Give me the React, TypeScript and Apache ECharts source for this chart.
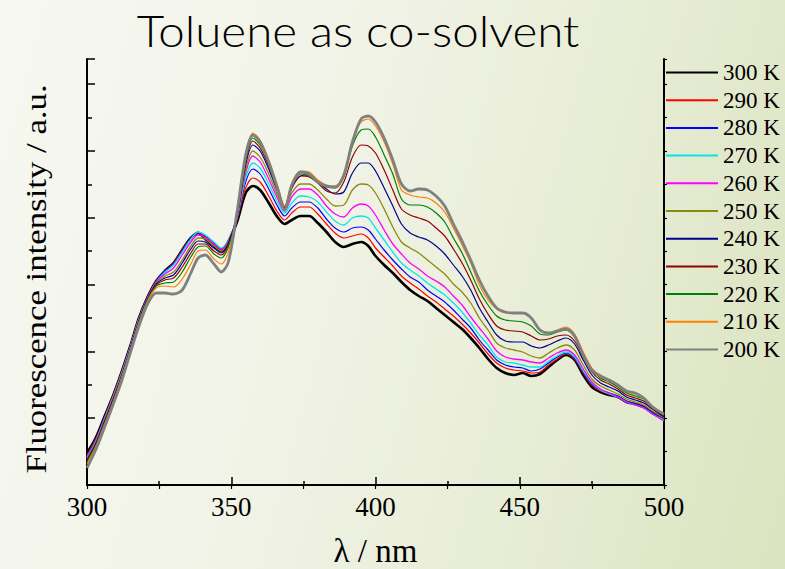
import React, { useEffect, useRef } from "react";
import * as echarts from "echarts";

// Emission wavelength grid (nm)
const wavelengths = [
  300, 303, 306, 309, 312, 315, 318, 321, 324,
  327, 330, 333, 336, 338.5, 341, 344, 346.5, 349,
  352, 355, 357.5, 360, 363, 366, 368.5, 371, 374,
  377, 380, 383, 386, 389, 392, 395, 397.5, 400,
  403, 406, 409, 412, 415, 418, 421, 424, 427,
  430, 433, 436, 439, 442, 445, 448, 451, 454,
  457, 460, 463, 466, 469, 472, 475, 478, 481,
  484, 487, 490, 493, 496, 500,
];

// Fluorescence intensity (a.u.) at each temperature
const i300K = [
  32, 47, 68, 89, 113, 139, 167, 188, 204,
  214, 222, 235, 247, 252, 246, 239, 234, 243,
  263, 292, 299, 295, 282, 268, 261, 265, 269,
  269, 262, 253, 243, 238, 241, 243, 239, 229,
  220, 212, 203, 195, 189, 184, 177, 170, 163,
  156, 147, 137, 126, 117, 112, 110, 112, 109,
  111, 118, 125, 130, 125, 110, 98, 93, 90,
  88, 83, 81, 78, 72, 67,
];
const i290K = [
  30, 46, 67, 89, 113, 139, 167, 188, 204,
  214, 222, 235, 247, 252, 247, 240, 235, 244,
  265, 297, 307, 303, 289, 273, 265, 272, 278,
  278, 271, 261, 252, 247, 249, 251, 247, 237,
  228, 219, 209, 202, 196, 189, 183, 176, 169,
  161, 152, 142, 131, 122, 117, 115, 114, 112,
  113, 120, 126, 131, 126, 112, 100, 94, 91,
  88, 83, 81, 78, 72, 67,
];
const i280K = [
  29, 45, 67, 88, 112, 138, 166, 188, 204,
  214, 221, 234, 247, 253, 249, 242, 236, 245,
  266, 303, 316, 311, 296, 279, 269, 277, 283,
  283, 277, 266, 257, 253, 257, 258, 255, 246,
  235, 225, 216, 208, 203, 195, 189, 183, 175,
  166, 157, 145, 135, 125, 120, 118, 117, 114,
  116, 122, 128, 132, 127, 113, 101, 95, 92,
  89, 84, 81, 78, 72, 67,
];
const i270K = [
  28, 44, 66, 88, 112, 138, 166, 187, 203,
  213, 220, 233, 246, 253, 250, 243, 237, 245,
  267, 307, 322, 317, 301, 283, 272, 282, 289,
  288, 283, 273, 264, 260, 267, 269, 267, 257,
  245, 233, 222, 215, 209, 202, 196, 190, 182,
  173, 162, 150, 140, 128, 123, 122, 120, 118,
  118, 124, 129, 133, 128, 114, 102, 95, 91,
  88, 83, 80, 77, 71, 65,
];
const i260K = [
  27, 43, 65, 87, 111, 137, 165, 187, 203,
  211, 217, 230, 243, 250, 248, 241, 236, 244,
  268, 312, 329, 323, 306, 287, 274, 288, 296,
  296, 290, 279, 271, 268, 277, 281, 279, 270,
  255, 241, 231, 222, 216, 209, 204, 198, 189,
  180, 168, 157, 146, 134, 128, 126, 125, 123,
  122, 127, 132, 135, 130, 116, 103, 96, 92,
  88, 83, 80, 77, 71, 64,
];
const i250K = [
  26, 42, 64, 86, 110, 136, 164, 186, 202,
  209, 213, 225, 239, 247, 246, 239, 234, 243,
  268, 315, 334, 328, 311, 290, 276, 292, 301,
  301, 295, 286, 279, 280, 295, 301, 300, 292,
  276, 258, 243, 237, 232, 225, 218, 211, 201,
  193, 182, 167, 155, 142, 137, 135, 133, 129,
  127, 132, 137, 140, 135, 120, 106, 99, 95,
  91, 86, 83, 80, 74, 67,
];
const i240K = [
  25, 41, 63, 85, 109, 136, 164, 186, 201,
  207, 210, 222, 236, 244, 243, 237, 232, 242,
  269, 320, 340, 334, 316, 294, 277, 297, 309,
  310, 303, 296, 291, 293, 312, 322, 322, 314,
  297, 279, 261, 252, 248, 245, 239, 231, 220,
  209, 195, 177, 163, 150, 144, 143, 143, 139,
  137, 140, 144, 147, 141, 125, 110, 102, 98,
  94, 88, 85, 82, 76, 68,
];
const i230K = [
  24, 40, 62, 84, 108, 135, 163, 185, 200,
  205, 207, 218, 232, 241, 241, 234, 230, 240,
  269, 323, 344, 337, 319, 296, 278, 297, 309,
  308, 302, 294, 292, 303, 328, 340, 339, 332,
  315, 295, 276, 270, 267, 264, 257, 249, 236,
  222, 205, 186, 171, 159, 155, 154, 153, 149,
  145, 146, 149, 150, 144, 128, 113, 105, 101,
  96, 90, 87, 84, 77, 69,
];
const i220K = [
  23, 39, 61, 83, 108, 135, 163, 185, 199,
  202, 203, 213, 228, 238, 239, 231, 227, 238,
  270, 325, 347, 340, 322, 298, 279, 299, 311,
  309, 302, 298, 297, 308, 339, 355, 356, 348,
  330, 311, 286, 280, 280, 278, 272, 263, 247,
  232, 213, 194, 180, 169, 165, 164, 163, 159,
  151, 150, 153, 155, 148, 131, 115, 107, 103,
  98, 92, 89, 86, 78, 70,
];
const i210K = [
  21, 38, 60, 82, 107, 134, 162, 184, 197,
  199, 198, 206, 221, 234, 235, 226, 221, 233,
  271, 329, 352, 345, 325, 300, 279, 302, 314,
  313, 305, 300, 299, 310, 345, 363, 366, 359,
  343, 321, 295, 290, 288, 287, 282, 273, 257,
  240, 222, 200, 185, 176, 172, 172, 172, 167,
  155, 152, 155, 158, 151, 133, 117, 109, 105,
  100, 94, 91, 87, 79, 71,
];
const i200K = [
  17, 35, 57, 80, 104, 132, 159, 181, 192,
  192, 191, 195, 212, 227, 230, 221, 213, 223,
  273, 330, 350, 343, 323, 297, 275, 300, 313,
  311, 303, 299, 298, 310, 343, 366, 369, 363,
  347, 325, 301, 294, 296, 295, 289, 279, 261,
  244, 225, 205, 189, 177, 173, 172, 172, 167,
  155, 152, 154, 156, 149, 130, 115, 109, 105,
  100, 94, 92, 87, 78, 71,
];

const temperatures = ["300 K", "290 K", "280 K", "270 K", "260 K", "250 K", "240 K", "230 K", "220 K", "210 K", "200 K"];
const spectra = [i300K, i290K, i280K, i270K, i260K, i250K, i240K, i230K, i220K, i210K, i200K];
const colors = ["#000000", "#ff0000", "#0000ff", "#00e8e8", "#ff00ff", "#8a8a10", "#000090", "#900000", "#008000", "#ff8000", "#808080"];
const widths = [2.6, 1.2, 1.2, 1.3, 1.3, 1.3, 1.2, 1.2, 1.2, 1.2, 2.8];

const xTicks = [300, 350, 400, 450, 500];

const SERIF = "'Liberation Serif', 'Times New Roman', serif";

export default function App() {
  const ref = useRef<HTMLDivElement>(null);

  useEffect(() => {
    if (!ref.current) return;
    const chart = echarts.init(ref.current, undefined, { renderer: "svg" });

    const axisLine = { show: true, lineStyle: { color: "#000", width: 2 } };

    chart.setOption({
      animation: false,
      backgroundColor: "transparent",
      grid: { left: 87, right: 121, top: 59, bottom: 84, containLabel: false, outerBoundsMode: "none" },
      graphic: [
        {
          type: "text",
          x: 358,
          y: 30,
          scaleX: 1.08,
          style: {
            text: "Toluene as co-solvent",
            font: "300 44px Lato, 'Open Sans', sans-serif",
            fill: "#000",
            textAlign: "center",
            textVerticalAlign: "middle",
          },
        },
        {
          type: "text",
          x: 36,
          y: 279,
          rotation: Math.PI / 2,
          scaleX: 1.16,
          style: {
            text: "Fluorescence intensity / a.u.",
            font: `30px ${SERIF}`,
            fill: "#000",
            textAlign: "center",
            textVerticalAlign: "middle",
          },
        },
      ],
      legend: {
        orient: "vertical",
        left: 665,
        top: 61,
        padding: 0,
        itemWidth: 52,
        itemHeight: 22,
        itemGap: 4.7,
        data: temperatures,
        itemStyle: { color: "transparent", borderColor: "transparent", borderWidth: 0, opacity: 0 },
        textStyle: { fontFamily: SERIF, fontSize: 23, color: "#000" },
      },
      xAxis: [
        {
          type: "value",
          position: "bottom",
          min: xTicks[0],
          max: xTicks[xTicks.length - 1],
          interval: 50,
          name: "λ / nm",
          nameLocation: "middle",
          nameGap: 52,
          nameTextStyle: { fontFamily: SERIF, fontSize: 33, lineHeight: 28, color: "#000" },
          axisLine,
          axisTick: { show: true, inside: true, length: 8, lineStyle: { color: "#000", width: 1.5 } },
          minorTick: { show: true, splitNumber: 2, length: 4, lineStyle: { color: "#000", width: 1.5 } },
          axisLabel: { fontFamily: SERIF, fontSize: 27, color: "#000", margin: 8 },
          splitLine: { show: false },
        },
        {
          type: "value",
          position: "top",
          min: 300,
          max: 500,
          interval: 25,
          axisLine,
          axisTick: { show: true, inside: true, length: 4, lineStyle: { color: "#000", width: 1.2 } },
          axisLabel: { show: false },
          splitLine: { show: false },
        },
      ],
      yAxis: [
        {
          type: "value",
          position: "left",
          min: 0,
          max: 426,
          interval: 66.8,
          axisLine,
          axisTick: { show: true, inside: true, length: 8, lineStyle: { color: "#000", width: 1.5 } },
          minorTick: { show: true, splitNumber: 2, length: 5, lineStyle: { color: "#000", width: 1.5 } },
          axisLabel: { show: false },
          splitLine: { show: false },
        },
        {
          type: "value",
          position: "right",
          min: 0,
          max: 426,
          interval: 33.4,
          axisLine,
          axisTick: { show: true, inside: false, length: 3, lineStyle: { color: "#000", width: 1.2 } },
          axisLabel: { show: false },
          splitLine: { show: false },
        },
      ],
      series: temperatures.map((name, k) => ({
        name,
        type: "line",
        xAxisIndex: 0,
        yAxisIndex: 0,
        data: wavelengths.map((w, j) => [w, spectra[k][j]]),
        showSymbol: false,
        symbol: "none",
        smooth: 0.3,
        color: colors[k],
        lineStyle: { color: colors[k], width: widths[k] },
        emphasis: { disabled: true },
      })),
    });

    return () => chart.dispose();
  }, []);

  return (
    <div
      style={{
        position: "fixed",
        left: 0,
        top: 0,
        width: 785,
        height: 569,
        background:
          "linear-gradient(105deg, #f6f8f1 0%, #f2f4e9 35%, #e8edd6 68%, #dbe3bf 100%)",
      }}
    >
      <div ref={ref} style={{ width: 785, height: 569 }} />
    </div>
  );
}
